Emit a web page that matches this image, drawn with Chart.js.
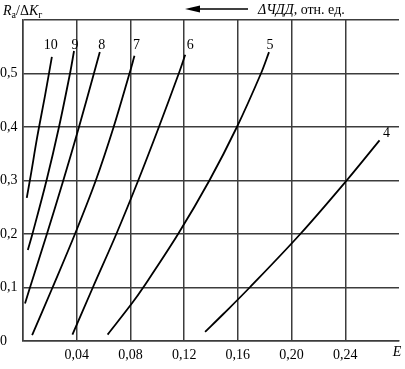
<!DOCTYPE html>
<html>
<head>
<meta charset="utf-8">
<script src="https://cdn.jsdelivr.net/npm/chart.js@4.4.1/dist/chart.umd.min.js"></script>
<style>
  html, body { margin: 0; padding: 0; background: #fff; }
  canvas { display: block; }
</style>
</head>
<body>
<canvas id="chart" width="405" height="369"></canvas>
<script>
/* ── data: E (x) and Ra/ΔKг (y) per curve ── */
const curveNames = ["4", "5", "6", "7", "8", "9", "10"];

const e4  = [0.1356, 0.149, 0.1688, 0.2065, 0.241, 0.2655];
const r4  = [0.017,  0.050, 0.100,  0.200,  0.300, 0.375];
const e5  = [0.063, 0.081, 0.0895, 0.1155, 0.1388, 0.1593, 0.1772, 0.1832];
const r5  = [0.012, 0.070, 0.100,  0.200,  0.300,  0.400,  0.500,  0.540];
const e6  = [0.0368, 0.052, 0.0695, 0.0858, 0.1012, 0.1160, 0.1208];
const r6  = [0.012,  0.100, 0.200,  0.300,  0.400,  0.500,  0.535];
const e7  = [0.0068, 0.022, 0.0387, 0.0542, 0.0675, 0.0793, 0.0830];
const r7  = [0.011,  0.100, 0.200,  0.300,  0.400,  0.500,  0.533];
const e8  = [0.0015, 0.0052, 0.0178, 0.0300, 0.0417, 0.0528, 0.0572];
const r8  = [0.070,  0.100,  0.200,  0.300,  0.400,  0.500,  0.540];
const e9  = [0.0036, 0.0070, 0.0175, 0.0268, 0.0350, 0.0380];
const r9  = [0.170,  0.200,  0.300,  0.400,  0.500,  0.542];
const e10 = [0.0028, 0.0058, 0.0105, 0.0165, 0.0215];
const r10 = [0.2675, 0.310,  0.380,  0.460,  0.531];

const eValues = [e4, e5, e6, e7, e8, e9, e10];
const rValues = [r4, r5, r6, r7, r8, r9, r10];

const xTicks = [0.04, 0.08, 0.12, 0.16, 0.20, 0.24];
const yTicks = [0, 0.1, 0.2, 0.3, 0.4, 0.5];

/* ── styling ─────────────────────────────────────────────────── */
const SERIF = '"Liberation Serif", "Times New Roman", "DejaVu Serif", serif';
const GRID  = "#3c3c3c";
const labelDx = [7, 1, 5, 2, 2, 1, -1];   // curve-number nudges, px

const isTick = (list, v) => list.some(t => Math.abs(t - v) < 1e-6);
const fmtX = v => v.toFixed(2).replace(".", ",");
const fmtY = v => (v === 0 ? "0" : v.toFixed(1).replace(".", ","));

/* ── annotations: header, arrow, curve numbers, E ────────────── */
function drawRuns(ctx, x, y, runs) {
    runs.forEach(r => {
        ctx.font = r.font;
        ctx.fillText(r.t, x, y + (r.dy || 0));
        x += ctx.measureText(r.t).width;
    });
    return x;
}

const annotations = {
    id: "annotations",
    afterDraw(chart) {
        const ctx = chart.ctx;
        const area = chart.chartArea;
        ctx.save();
        ctx.fillStyle = "#000";
        ctx.strokeStyle = "#000";
        ctx.textAlign = "left";
        ctx.textBaseline = "alphabetic";

        // y-axis name
        drawRuns(ctx, 3, 15, [
            { t: "R", font: "italic 14px " + SERIF },
            { t: "а", font: "10px " + SERIF, dy: 3 },
            { t: "/Δ", font: "14px " + SERIF },
            { t: "K", font: "italic 14px " + SERIF },
            { t: "г", font: "10px " + SERIF, dy: 3 }
        ]);

        // arrow + ΔЧДД label
        ctx.lineWidth = 1.5;
        ctx.beginPath();
        ctx.moveTo(198, 9);
        ctx.lineTo(248, 9);
        ctx.stroke();
        ctx.beginPath();
        ctx.moveTo(185, 9);
        ctx.lineTo(200, 5.5);
        ctx.lineTo(200, 12.5);
        ctx.closePath();
        ctx.fill();
        drawRuns(ctx, 258, 14, [
            { t: "ΔЧДД", font: "italic 14px " + SERIF },
            { t: ", отн. ед.", font: "14px " + SERIF }
        ]);

        // curve numbers
        ctx.font = "14px " + SERIF;
        ctx.textAlign = "center";
        ctx.textBaseline = "middle";
        curveNames.forEach((name, i) => {
            const pts = chart.getDatasetMeta(i).data;
            const last = pts[pts.length - 1];
            const y = name === "4" ? last.y - 7 : area.top + 25;
            ctx.fillText(name, last.x + labelDx[i], y);
        });

        // x-axis name
        ctx.font = "italic 14px " + SERIF;
        ctx.fillText("E", 397, 352);
        ctx.restore();
    }
};

/* ── chart ───────────────────────────────────────────────────── */
new Chart(document.getElementById("chart"), {
    type: "scatter",
    data: {
        datasets: curveNames.map((name, i) => ({
            label: name,
            data: eValues[i].map((x, j) => ({ x, y: rValues[i][j] })),
            showLine: true,
            borderColor: "#000",
            borderWidth: 1.8,
            pointRadius: 0,
            tension: 0.35,
            fill: false
        }))
    },
    options: {
        responsive: false,
        animation: false,
        devicePixelRatio: 1,
        layout: { padding: { top: 20, right: 1, left: 0, bottom: 0 } },
        plugins: { legend: { display: false }, tooltip: { enabled: false } },
        scales: {
            x: {
                type: "linear",
                min: 0,
                max: 0.28,
                afterBuildTicks: s => { s.ticks = [0, ...xTicks, 0.28].map(v => ({ value: v })); },
                afterFit: s => { s.height = 28; },
                grid: {
                    color: c => (c.tick && c.tick.value > 0.27 ? "rgba(0,0,0,0)" : GRID),
                    lineWidth: 1.5,
                    drawTicks: false
                },
                border: { display: true, color: GRID, width: 1.5 },
                ticks: {
                    padding: 6,
                    color: "#000",
                    font: { family: SERIF, size: 14 },
                    maxRotation: 0,
                    autoSkip: false,
                    callback: v => (isTick(xTicks, v) ? fmtX(v) : "")
                }
            },
            y: {
                type: "linear",
                min: 0,
                max: 0.6,
                afterBuildTicks: s => { s.ticks = [...yTicks, 0.6].map(v => ({ value: v })); },
                afterFit: s => { s.width = 23; },
                grid: { color: GRID, lineWidth: 1.5, drawTicks: false },
                border: { display: true, color: GRID, width: 1.5 },
                ticks: {
                    padding: 0,
                    crossAlign: "far",
                    color: "#000",
                    font: { family: SERIF, size: 14 },
                    autoSkip: false,
                    callback: v => (isTick(yTicks, v) ? fmtY(v) : "")
                }
            }
        }
    },
    plugins: [annotations]
});
</script>
</body>
</html>
